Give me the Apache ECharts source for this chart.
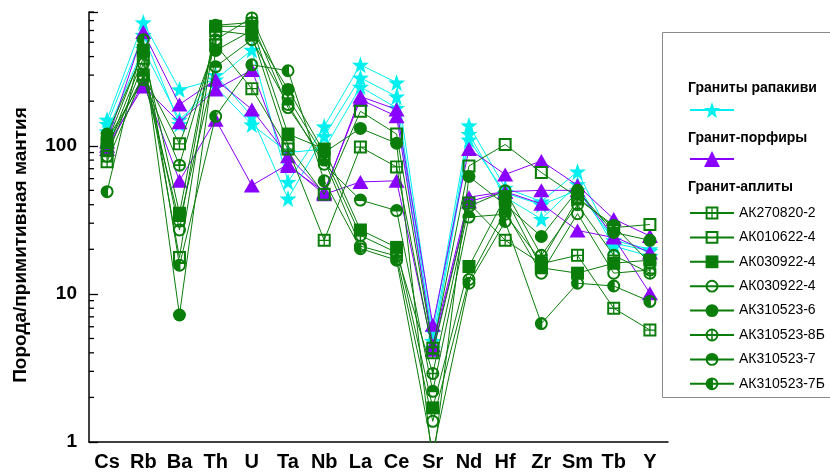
<!DOCTYPE html>
<html><head><meta charset="utf-8">
<script src="https://cdn.jsdelivr.net/npm/echarts@6/dist/echarts.min.js"></script>
<style>html,body{margin:0;padding:0;background:#fff}#c{width:830px;height:472px}</style>
</head><body><div id="c"></div>
<script>
// ---------- data ----------
const elements = ['Cs','Rb','Ba','Th','U','Ta','Nb','La','Ce','Sr','Nd','Hf','Zr','Sm','Tb','Y'];
const yTickLabels = ['1','10','100'];
const minorTickValues = [2,3,4,5,6,7,8,9,20,30,40,50,60,70,80,90,200,300,400,500,600,700,800];

// Граниты рапакиви
const rapakivi1 = [150,680,240,280,444,57,135,352,267,5.5,137,52,42,67,22,19.5];
const rapakivi2 = [140,560,140,300,158,44,116,288,215,4.8,120,45,32,55,21,18];
const rapakivi3 = [125,450,150,250,139,90,95,250,180,4.3,110,48,40,50,23,20];
// Гранит-порфиры
const porphyry1 = [107,586,190,279,176,85,48,215,176,6.2,95,64,79,54,32,24.6];
const porphyry2 = [100,251,144,240,325,73,49,205,158,4.5,45,49,50,50,24.4,19];
const porphyry3 = [95,265,58,150,54,75,47,57,58,4.2,42,49,40.6,26.8,24,10.1];
// Гранит-аплиты
const ak270820_2 = [78,300,103,480,243,95,23,98,72,4.0,41,23,16,18.2,8.0,5.7];
const ak010622_4 = [95,390,17.6,600,560,100,47,171,120,4.3,73,102,66,45,28,29.4];
const ak030922_4a = [105,440,35,640,640,120,95,27,20.6,1.7,15.3,45,15,13.8,16.1,16.9];
const ak030922_4b = [85,358,27,650,680,181,80,21,18,1.38,12.5,36,13.8,34.8,13.8,14.5];
const ak310523_6 = [120,424,7.2,440,600,240,90,131,104,0.7,62,40,24.4,50,26,23];
const ak310523_8b = [110,280,74,520,730,210,85,24.8,19,2.9,39,49.6,18.2,40,18.2,13.8];
const ak310523_7 = [100,297,31,342,520,190,75,43,36.5,2.2,33,34.5,16.6,43.8,29,16.1];
const ak310523_7b = [49,520,15.6,158,352,321,58,20.2,16.9,0.85,11.8,30.8,6.3,11.8,11.3,8.9];

const aplNames = ['АК270820-2','АК010622-4','АК030922-4','АК030922-4 ','АК310523-6','АК310523-8Б','АК310523-7','АК310523-7Б'];
const aplData = [ak270820_2, ak010622_4, ak030922_4a, ak030922_4b, ak310523_6, ak310523_8b, ak310523_7, ak310523_7b];

// ---------- symbols ----------
const OUTER_C = 'M10,0A10,10 0 1,1 10,20A10,10 0 1,1 10,0Z ';
const SYM_STAR = 'path://M10,0L12.35,6.76L19.51,6.91L13.8,11.24L15.88,18.09L10,14L4.12,18.09L6.2,11.24L0.49,6.91L7.65,6.76Z';
const SYM_SQ_PLUS = 'path://M0,0H20V20H0Z M3,3V9H9V3Z M11,3V9H17V3Z M3,11V17H9V11Z M11,11V17H17V11Z';
const SYM_SQ_OPEN = 'path://M0,0H20V20H0Z M3.2,3.2V16.8H16.8V3.2Z';
const SYM_C_OPEN = 'path://' + OUTER_C + 'M10,3A7,7 0 1,0 10,17A7,7 0 1,0 10,3Z';
const SYM_C_PLUS = 'path://' + OUTER_C + 'M11.2,8.8H16.9A7,7 0 0,0 11.2,3.1Z M8.8,8.8V3.1A7,7 0 0,0 3.1,8.8Z M8.8,11.2H3.1A7,7 0 0,0 8.8,16.9Z M11.2,11.2V16.9A7,7 0 0,0 16.9,11.2Z';
const SYM_C_TOP = 'path://' + OUTER_C + 'M3.16,11.5A7,7 0 0,0 16.84,11.5Z';
const SYM_C_LEFT = 'path://' + OUTER_C + 'M11.5,16.84A7,7 0 0,0 11.5,3.16Z';
const aplSymbols = [SYM_SQ_PLUS, SYM_SQ_OPEN, 'rect', SYM_C_OPEN, 'circle', SYM_C_PLUS, SYM_C_TOP, SYM_C_LEFT];

const CYAN = '#00f0f0', PURPLE = '#8a00ff', GREEN = '#0a7d0a';
const FONT = 'Liberation Sans, Arial, sans-serif';

const series = [];
[rapakivi1, rapakivi2, rapakivi3].forEach(d => series.push({
  type:'line', name:'Граниты рапакиви', data:d, symbol:SYM_STAR, symbolSize:17,
  lineStyle:{color:CYAN, width:1}, itemStyle:{color:CYAN}, z:2
}));
[porphyry1, porphyry2, porphyry3].forEach(d => series.push({
  type:'line', name:'Гранит-порфиры', data:d, symbol:'triangle', symbolSize:[16,14],
  lineStyle:{color:PURPLE, width:1}, itemStyle:{color:PURPLE}, z:3
}));
aplData.forEach((d,i) => series.push({
  type:'line', name:aplNames[i], data:d, symbol:aplSymbols[i], symbolSize:13,
  lineStyle:{color:GREEN, width:1}, itemStyle:{color:GREEN}, z:4
}));
// minor ticks of the log axis
series.push({
  type:'custom', silent:true, z:10,
  data: minorTickValues.map(v => [0, v]),
  renderItem(params, api){
    const cs = params.coordSys;
    const y = api.coord([0, api.value(1)])[1];
    return {type:'line', shape:{x1:cs.x, y1:y, x2:cs.x+5, y2:y}, style:{stroke:'#000', lineWidth:1.3}};
  }
});

const chart = echarts.init(document.getElementById('c'), null, {renderer:'canvas'});
chart.setOption({
  animation:false,
  backgroundColor:'#fff',
  grid:{left:89, top:12, width:579, height:433},
  xAxis:{
    type:'category', data:elements, boundaryGap:true,
    axisLine:{lineStyle:{color:'#000', width:1.5}},
    axisTick:{alignWithLabel:true, inside:true, length:6, lineStyle:{color:'#000', width:1.3}},
    axisLabel:{color:'#000', fontSize:20, fontWeight:'bold', fontFamily:FONT, margin:10, interval:0},
    splitLine:{show:false}
  },
  yAxis:{
    type:'log', logBase:10, min:1, max:800,
    axisLine:{show:true, lineStyle:{color:'#000', width:1.5}},
    axisTick:{show:true, inside:true, length:9, lineStyle:{color:'#000', width:1.3}},
    axisLabel:{color:'#000', fontSize:19, fontWeight:'bold', fontFamily:FONT, margin:12,
      formatter: v => { const i = [1,10,100].indexOf(Math.round(v)); return (i>=0 && Math.abs(v-[1,10,100][i])<1e-6) ? yTickLabels[i] : ''; }},
    splitLine:{show:false}
  },
  legend:[
    {data:['Граниты рапакиви'], left:689, top:100, padding:0, itemWidth:44, itemHeight:20, formatter:()=> '', selectedMode:false},
    {data:['Гранит-порфиры'], left:689, top:149, padding:0, itemWidth:44, itemHeight:20, formatter:()=> '', selectedMode:false},
    {data:aplNames, orient:'vertical', left:689, top:206, padding:0, itemWidth:44, itemHeight:16, itemGap:10.4,
     textStyle:{fontSize:14, fontFamily:FONT, color:'#000'}, selectedMode:false,
     formatter: n => n.trim()}
  ],
  graphic:[
    {type:'rect', shape:{x:662.5, y:32.5, width:200, height:365}, style:{fill:'none', stroke:'#8a8a8a', lineWidth:1}, silent:true},
    {type:'text', x:688, y:88, style:{text:'Граниты рапакиви', font:'bold 14px '+FONT, fill:'#000', textVerticalAlign:'middle'}},
    {type:'text', x:688, y:138, style:{text:'Гранит-порфиры', font:'bold 14px '+FONT, fill:'#000', textVerticalAlign:'middle'}},
    {type:'text', x:688, y:187, style:{text:'Гранит-аплиты', font:'bold 14px '+FONT, fill:'#000', textVerticalAlign:'middle'}},
    {type:'text', x:21, y:245, rotation:Math.PI/2, style:{text:'Порода/примитивная мантия', font:'bold 19px '+FONT, fill:'#000', textAlign:'center', textVerticalAlign:'middle'}}
  ],
  series:series
});
</script></body></html>
